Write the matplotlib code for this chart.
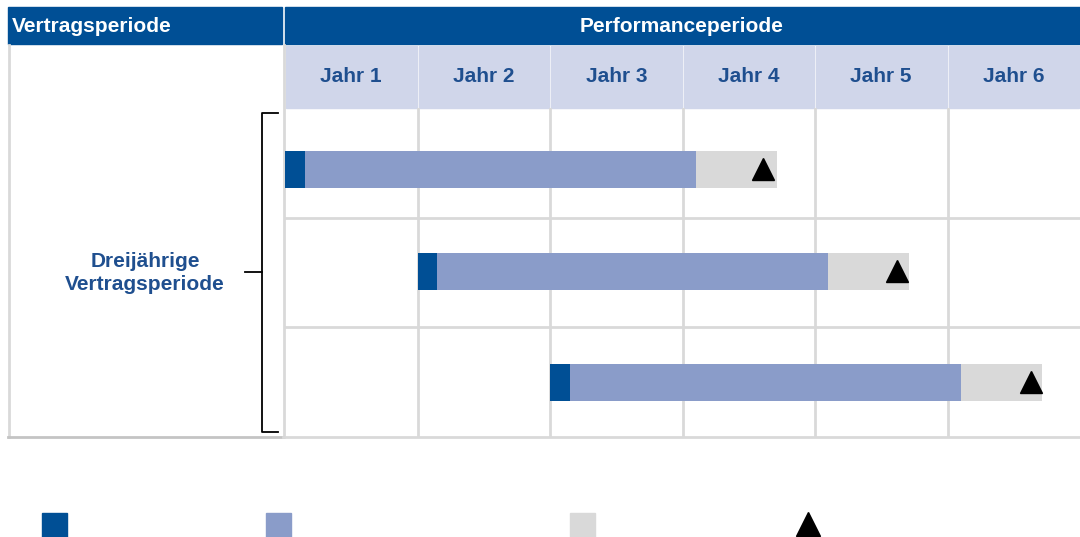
import matplotlib
matplotlib.use("Agg")
import matplotlib.pyplot as plt
from matplotlib.patches import Rectangle

plt.rcParams["font.family"] = ["Liberation Sans", "DejaVu Sans"]

# Data
years = ["Jahr 1", "Jahr 2", "Jahr 3", "Jahr 4", "Jahr 5", "Jahr 6"]
row_pos = [0.56, 1.49, 2.50]
grant_start = [0.0, 1.0, 2.0]
grant_len = [0.15, 0.15, 0.15]
perf_len = [2.95, 2.95, 2.95]
hold_len = [0.61, 0.61, 0.61]
payout_at = [3.61, 4.62, 5.63]

DARK = "#004f95"
LIGHT = "#8a9cc9"
GRAY = "#d9d9d9"
LAV = "#d0d6ea"
LINE = "#d9d9d9"
TXT = "#1f4f8f"
legend_colors = [DARK, LIGHT, GRAY]
FS = 15

fig = plt.figure(figsize=(10.8, 5.37), dpi=100)

# background axes in pixel units for the table frame
bg = fig.add_axes([0, 0, 1, 1])
bg.set_xlim(0, 1080)
bg.set_ylim(537, 0)
bg.axis("off")

bg.add_patch(Rectangle((8, 7), 274, 37, color=DARK))
bg.add_patch(Rectangle((285, 7), 795, 37, color=DARK))
bg.text(12, 26, "Vertragsperiode", color="white", fontsize=FS,
        fontweight="bold", va="center", ha="left")
bg.text(682, 26, "Performanceperiode", color="white", fontsize=FS,
        fontweight="bold", va="center", ha="center")

# year header cells
col_w = 795 / len(years)
for i, name in enumerate(years):
    x0 = 285 + i * col_w
    bg.add_patch(Rectangle((x0 + 1, 46), col_w - 2, 62, color=LAV))
    bg.text(x0 + col_w / 2, 77, name, color=TXT, fontsize=FS,
            fontweight="bold", ha="center", va="center")

# left cell frame
bg.plot([8.5, 8.5], [45, 437], color=LINE, lw=2)
bg.plot([283.5, 283.5], [45, 437], color=LINE, lw=2)
bg.plot([8, 283], [437, 437], color="#c4c4c4", lw=2)
bg.plot([283, 1080], [437, 437], color=LINE, lw=2)

bg.text(145, 273, "Dreijährige\nVertragsperiode", color=TXT, fontsize=FS,
        fontweight="bold", ha="center", va="center", linespacing=1.3)

# bracket
bg.plot([278, 262, 262, 278], [113, 113, 432, 432], color="black", lw=1.3)
bg.plot([245, 262], [272, 272], color="black", lw=1.3)

# legend markers (no labels in the original)
leg_x = [42, 266, 570]
for x, c in zip(leg_x, legend_colors):
    bg.add_patch(Rectangle((x, 513), 25, 24, color=c))
bg.plot([808], [524], marker="^", color="black", ms=17, ls="none",
        clip_on=False)

# data axes for the bars
ax = fig.add_axes([285 / 1080, (537 - 437) / 537, 795 / 1080, 329 / 537])
ax.set_xlim(0, 6)
ax.set_ylim(3, 0)
ax.axis("off")
for xv in range(1, 6):
    ax.axvline(xv, color=LINE, lw=2, zorder=0)
for yv in (1, 2):
    ax.axhline(yv, color=LINE, lw=2, zorder=0)

h = 0.34
for y, s, g, p, k in zip(row_pos, grant_start, grant_len, perf_len, hold_len):
    ax.barh(y, g, left=s, height=h, color=DARK, zorder=3)
    ax.barh(y, p, left=s + g, height=h, color=LIGHT, zorder=3)
    ax.barh(y, k, left=s + g + p, height=h, color=GRAY, zorder=3)
ax.plot(payout_at, row_pos, marker="^", color="black", ms=16, ls="none",
        zorder=4)

fig.savefig("out.png", dpi=100)
